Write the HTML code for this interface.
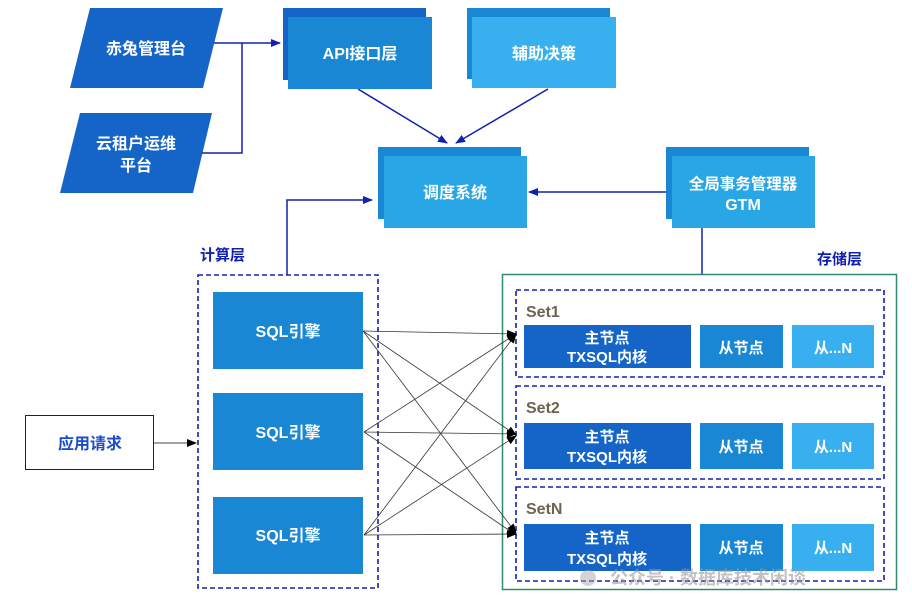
<!DOCTYPE html>
<html><head><meta charset="utf-8"><style>
html,body{margin:0;padding:0;background:#fff;}
svg{display:block;}
text{font-family:"Liberation Sans","Noto Sans CJK SC",sans-serif;font-weight:bold;}
</style></head><body>
<svg width="912" height="612" viewBox="0 0 912 612" xmlns="http://www.w3.org/2000/svg">
<defs>
<marker id="ab" markerWidth="10" markerHeight="10" refX="9" refY="5" orient="auto" markerUnits="userSpaceOnUse"><path d="M0,1 L10,5 L0,9 Z" fill="#1020b0"/></marker>
<marker id="ak" markerWidth="10" markerHeight="10" refX="9" refY="5" orient="auto" markerUnits="userSpaceOnUse"><path d="M0,1 L10,5 L0,9 Z" fill="#000"/></marker>
</defs>
<polygon points="90,8 223,8 203,88 70,88" fill="#1565c8"/>
<text x="146" y="54" fill="#fff" font-size="16" text-anchor="middle">赤兔管理台</text>
<polygon points="80,113 212,113 193,193 60,193" fill="#1565c8"/>
<text x="136" y="149" fill="#fff" font-size="16" text-anchor="middle">云租户运维</text>
<text x="136" y="171" fill="#fff" font-size="16" text-anchor="middle">平台</text>
<g stroke="#1020b0" stroke-width="1.5" fill="none">
<polyline points="214,43 280,43" marker-end="url(#ab)"/>
<polyline points="242,43 242,153 202,153"/>
<line x1="358" y1="89" x2="447" y2="143" marker-end="url(#ab)"/>
<line x1="548" y1="89" x2="456" y2="143" marker-end="url(#ab)"/>
<line x1="666" y1="192" x2="529" y2="192" marker-end="url(#ab)"/>
<line x1="702" y1="228" x2="702" y2="274"/>
<polyline points="287,275 287,200 372,200" marker-end="url(#ab)"/>
</g>
<rect x="283" y="8" width="143" height="72" fill="#1565c8"/>
<rect x="288" y="17" width="144" height="72" fill="#1a87d4"/>
<text x="360" y="59" fill="#fff" font-size="16" text-anchor="middle">API接口层</text>
<rect x="467" y="8" width="143" height="71" fill="#1a87d4"/>
<rect x="472" y="17" width="144" height="71" fill="#38b0ef"/>
<text x="544" y="59" fill="#fff" font-size="16" text-anchor="middle">辅助决策</text>
<rect x="378" y="147" width="143" height="72" fill="#1a87d4"/>
<rect x="384" y="156" width="143" height="72" fill="#29a6e5"/>
<text x="455" y="198" fill="#fff" font-size="16" text-anchor="middle">调度系统</text>
<rect x="666" y="147" width="143" height="72" fill="#1a87d4"/>
<rect x="672" y="156" width="143" height="72" fill="#29a6e5"/>
<text x="743" y="189" fill="#fff" font-size="15.5" text-anchor="middle">全局事务管理器</text>
<text x="743" y="210" fill="#fff" font-size="16" text-anchor="middle">GTM</text>
<text x="200" y="260" fill="#1020b0" font-size="15">计算层</text>
<text x="817" y="264" fill="#1020b0" font-size="15">存储层</text>
<rect x="198" y="275" width="180" height="313" fill="none" stroke="#1020b0" stroke-width="1.6" stroke-dasharray="5,3"/>
<rect x="213" y="292" width="150" height="77" fill="#1a87d4"/>
<rect x="213" y="393" width="150" height="77" fill="#1a87d4"/>
<rect x="213" y="497" width="150" height="77" fill="#1a87d4"/>
<text x="288" y="337" fill="#fff" font-size="16" text-anchor="middle">SQL引擎</text>
<text x="288" y="438" fill="#fff" font-size="16" text-anchor="middle">SQL引擎</text>
<text x="288" y="541" fill="#fff" font-size="16" text-anchor="middle">SQL引擎</text>
<rect x="25.5" y="415.5" width="128" height="54" fill="#fff" stroke="#222" stroke-width="1"/>
<text x="90" y="449" fill="#1a4bc8" font-size="16" text-anchor="middle">应用请求</text>
<line x1="154" y1="443" x2="196" y2="443" stroke="#444" stroke-width="1" marker-end="url(#ak)"/>
<rect x="502.5" y="274.5" width="394" height="315" fill="none" stroke="#2e8b6e" stroke-width="1.5"/>
<g fill="none" stroke="#1020b0" stroke-width="1.6" stroke-dasharray="5,3">
<rect x="516" y="290" width="368" height="87"/>
<rect x="516" y="386" width="368" height="93"/>
<rect x="516" y="487" width="368" height="94"/>
</g>
<g fill="#6b6450" font-size="16">
<text x="526" y="317">Set1</text>
<text x="526" y="413">Set2</text>
<text x="526" y="514">SetN</text>
</g>
<g>
<rect x="524" y="325" width="167" height="43" fill="#1565c8"/>
<rect x="700" y="325" width="83" height="43" fill="#1a87d4"/>
<rect x="792" y="325" width="82" height="43" fill="#38b0ef"/>
<rect x="524" y="423" width="167" height="46" fill="#1565c8"/>
<rect x="700" y="423" width="83" height="46" fill="#1a87d4"/>
<rect x="792" y="423" width="82" height="46" fill="#38b0ef"/>
<rect x="524" y="524" width="167" height="47" fill="#1565c8"/>
<rect x="700" y="524" width="83" height="47" fill="#1a87d4"/>
<rect x="792" y="524" width="82" height="47" fill="#38b0ef"/>
</g>
<g fill="#fff" font-size="15" text-anchor="middle">
<text x="607" y="343">主节点</text><text x="607" y="362">TXSQL内核</text>
<text x="741" y="353">从节点</text><text x="833" y="353">从...N</text>
<text x="607" y="442">主节点</text><text x="607" y="462">TXSQL内核</text>
<text x="741" y="452">从节点</text><text x="833" y="452">从...N</text>
<text x="607" y="543">主节点</text><text x="607" y="564">TXSQL内核</text>
<text x="741" y="553">从节点</text><text x="833" y="553">从...N</text>
</g>
<g stroke="#333" stroke-width="0.8" fill="none">
<line x1="363" y1="331" x2="516" y2="334" marker-end="url(#ak)"/>
<line x1="363" y1="331" x2="516" y2="435" marker-end="url(#ak)"/>
<line x1="363" y1="331" x2="516" y2="533" marker-end="url(#ak)"/>
<line x1="364" y1="432" x2="516" y2="334" marker-end="url(#ak)"/>
<line x1="364" y1="432" x2="516" y2="434" marker-end="url(#ak)"/>
<line x1="364" y1="432" x2="516" y2="535" marker-end="url(#ak)"/>
<line x1="364" y1="535" x2="516" y2="334" marker-end="url(#ak)"/>
<line x1="364" y1="535" x2="516" y2="436" marker-end="url(#ak)"/>
<line x1="364" y1="535" x2="516" y2="534" marker-end="url(#ak)"/>
</g>
<text x="610" y="584" fill="#999" fill-opacity="0.6" font-size="18" font-weight="normal">公众号 · 数据库技术闲谈</text>
<circle cx="588" cy="578" r="8" fill="#aaa" fill-opacity="0.5"/>
</svg>
</body></html>
